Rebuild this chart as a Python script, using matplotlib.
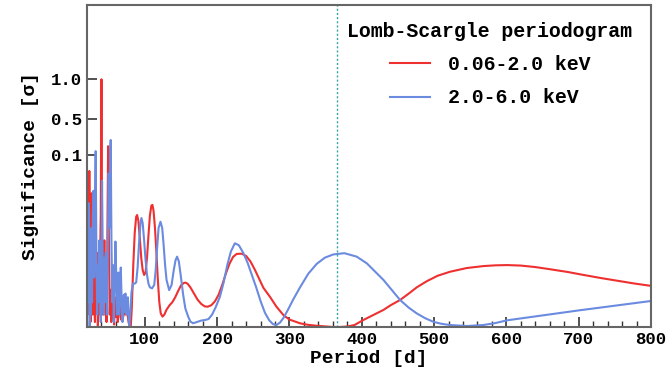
import matplotlib
matplotlib.use("Agg")
import matplotlib.pyplot as plt
from matplotlib.ticker import MultipleLocator

plt.rcParams['font.family'] = ['Liberation Mono', 'DejaVu Sans Mono']
plt.rcParams['font.weight'] = 'bold'

# 0.06-2.0 keV periodogram (period [d], power)
soft_period = [20.0, 20.8, 21.6, 22.4, 23.2, 24.0, 24.8, 25.6, 26.4, 27.2, 28.0, 29.0, 30.0, 31.0,
               32.0, 33.0, 34.0, 35.0, 36.0, 37.0, 38.0, 39.0, 40.0, 41.0, 42.0, 43.0, 44.0, 45.0,
               46.0, 47.0, 48.0, 49.2, 50.3, 51.5, 52.5, 53.5, 54.5, 55.5, 56.5, 57.5, 58.5, 59.5,
               61.0, 62.5, 64.0, 65.5, 67.0, 68.5, 70.0, 71.5, 73.0, 74.5, 76.0, 77.5, 79.0, 80.5,
               82, 84, 86, 88, 89.3, 91, 93, 95, 97, 99, 101, 103, 105, 107, 109, 110.5, 112, 114,
               116, 118, 120, 122, 124.4, 127, 130, 134.5, 138, 142, 146, 150, 154, 156.2, 159, 163,
               168, 173, 178, 183, 187, 192, 197, 202, 207, 212, 217, 222, 227, 233.8, 240, 246,
               252, 258, 264, 273, 282, 291.7, 300, 314.6, 325, 337.7, 350, 360, 370, 380, 390,
               402, 415, 430, 440, 453, 465, 476, 490, 505, 522, 545, 568.4, 585, 601, 620, 640,
               660.8, 685, 707, 730, 753, 776, 800]
soft_power = [0.35, 0.05, 0.45, 0.10, 0.63, 0.20, 0.02, 0.30, 0.54, 0.25, 0.05, 0.38, 0.10, 0.02,
              0.22, 0.06, 0.30, 0.00, 0.15, 0.05, 0.25, 0.45, 1.00, 0.30, 0.05, 0.18, 0.35, 0.05,
              0.12, 0.02, 0.30, 0.73, 0.35, 0.05, 0.15, 0.02, 0.10, 0.20, 0.05, 0.01, 0.12, 0.04,
              0.08, 0.02, 0.06, 0.09, 0.03, 0.07, 0.04, 0.09, 0.05, 0.08, 0.05, 0.02, 0.00, 0.00,
              0.08, 0.25, 0.38, 0.445, 0.452, 0.43, 0.36, 0.28, 0.23, 0.21, 0.22, 0.28, 0.37, 0.45,
              0.49, 0.493, 0.47, 0.40, 0.30, 0.19, 0.10, 0.055, 0.042, 0.05, 0.07, 0.089, 0.10, 0.12,
              0.145, 0.168, 0.178, 0.179, 0.175, 0.16, 0.135, 0.11, 0.093, 0.083, 0.082, 0.088,
              0.104, 0.13, 0.17, 0.215, 0.255, 0.283, 0.295, 0.296, 0.287, 0.265, 0.232, 0.195,
              0.158, 0.122, 0.082, 0.048, 0.03, 0.015, 0.009, 0.005, 0.002, 0.0, 0.0, 0.002, 0.008,
              0.028, 0.047, 0.069, 0.088, 0.109, 0.135, 0.16, 0.185, 0.207, 0.223, 0.238, 0.246,
              0.249, 0.25, 0.248, 0.242, 0.233, 0.222, 0.21, 0.198, 0.187, 0.176, 0.166]

# 2.0-6.0 keV periodogram
hard_period = [20.0, 20.7, 21.5, 22.3, 23.0, 23.8, 24.6, 25.4, 26.2, 27.0, 28.0, 29.0, 30.0, 31.0,
               32.0, 33.0, 34.0, 35.0, 36.0, 37.0, 38.0, 39.0, 40.0, 40.8, 41.8, 43.0, 44.0, 45.0,
               46.0, 47.0, 48.0, 49.0, 50.0, 51.0, 52.0, 52.8, 53.8, 55.0, 56.0, 57.0, 58.0, 59.3,
               60.5, 61.5, 62.5, 63.5, 64.5, 65.5, 66.7, 68.0, 69.0, 70.0, 71.0, 72.0, 73.1, 74.5,
               75.5, 76.5, 77.5, 78.5, 80, 81.5, 83.7, 86, 88, 90, 92, 94, 95.3, 97, 99, 101, 103,
               105, 107, 110, 113, 115, 117, 119, 121.6, 124, 126, 128, 130, 133.6, 137, 140, 142.5,
               144.6, 147, 150, 153, 156, 159.9, 163, 166.8, 172, 178, 183, 188, 193, 198, 203.8,
               209, 214, 219, 224.5, 230, 236, 242, 248, 254, 260, 266, 272, 277, 282, 287, 292,
               298, 305, 314.6, 326, 337.7, 349, 360.7, 376, 393, 407, 418, 430, 442, 453, 465, 476,
               488, 499, 510, 522, 545, 568, 585, 601, 650, 700, 750, 800]
hard_power = [0.20, 0.45, 0.10, 0.50, 0.15, 0.00, 0.30, 0.05, 0.40, 0.10, 0.45, 0.55, 0.20, 0.50,
              0.71, 0.30, 0.05, 0.25, 0.10, 0.35, 0.15, 0.02, 0.20, 0.59, 0.20, 0.05, 0.28, 0.10,
              0.30, 0.18, 0.05, 0.40, 0.62, 0.40, 0.70, 0.755, 0.35, 0.10, 0.25, 0.02, 0.15, 0.345,
              0.20, 0.05, 0.15, 0.22, 0.05, 0.10, 0.24, 0.10, 0.02, 0.08, 0.13, 0.06, 0.135, 0.05,
              0.09, 0.12, 0.04, 0.00, 0.06, 0.14, 0.176, 0.175, 0.18, 0.24, 0.34, 0.42, 0.44, 0.42,
              0.35, 0.27, 0.21, 0.175, 0.16, 0.156, 0.17, 0.23, 0.32, 0.40, 0.425, 0.40, 0.33, 0.25,
              0.19, 0.149, 0.17, 0.23, 0.27, 0.284, 0.265, 0.20, 0.13, 0.075, 0.042, 0.022, 0.015,
              0.02, 0.026, 0.028, 0.032, 0.05, 0.08, 0.122, 0.18, 0.25, 0.305, 0.338, 0.33, 0.30,
              0.26, 0.21, 0.16, 0.105, 0.058, 0.027, 0.012, 0.008, 0.018, 0.038, 0.07, 0.11, 0.16,
              0.215, 0.255, 0.28, 0.293, 0.298, 0.284, 0.257, 0.225, 0.19, 0.148, 0.109, 0.078,
              0.055, 0.035, 0.021, 0.013, 0.008, 0.004, 0.008, 0.016, 0.027, 0.047, 0.067, 0.086,
              0.105]

one_year = 365.25
sig_tick_pos = [0.694, 0.840, 1.0]
sig_tick_labels = ['0.1', '0.5', '1.0']
x_ticks = [100, 200, 300, 400, 500, 600, 700, 800]

fig = plt.figure(figsize=(6.68, 3.76), dpi=100)
ax = fig.add_axes([87/668, 1-327/376, (651-87)/668, (327-5)/376])

red = '#ee3030'
blue = '#6b8be0'
ax.plot(soft_period, soft_power, color=red, lw=1.5, label='0.06-2.0 keV')
ax.plot(hard_period, hard_power, color=blue, lw=1.5, label='2.0-6.0 keV')
ax.axvline(one_year, color='#3aa3a8', lw=1.0, ls=(0, (1.5, 1.5)))

ax.set_xlim(20, 800)
ax.set_ylim(0, 1.3)
ax.set_xticks(x_ticks)
ax.xaxis.set_minor_locator(MultipleLocator(20))
ax.set_yticks(sig_tick_pos)
ax.set_yticklabels(sig_tick_labels)
ax.tick_params(axis='both', which='major', direction='in', length=7, width=1.2,
               labelsize=12.5, color='#333333')
ax.tick_params(axis='x', which='minor', direction='in', length=4, width=1.0, color='#333333')
for s in ax.spines.values():
    s.set_color('#666666')
    s.set_linewidth(1.5)

ax.set_xlabel('Period [d]', fontsize=14, fontweight='bold', labelpad=2)
ax.set_ylabel('Significance [σ]', fontsize=14, fontweight='bold', labelpad=9)

leg = ax.legend(title='Lomb-Scargle periodogram', loc='upper center',
                bbox_to_anchor=(490/668, 1-4/376), bbox_transform=fig.transFigure,
                frameon=False, fontsize=14.3, title_fontsize=14.3, handlelength=2.0,
                handletextpad=0.9, labelspacing=0.72)
leg.get_title().set_fontweight('bold')

fig.savefig('out.png', dpi=100)
